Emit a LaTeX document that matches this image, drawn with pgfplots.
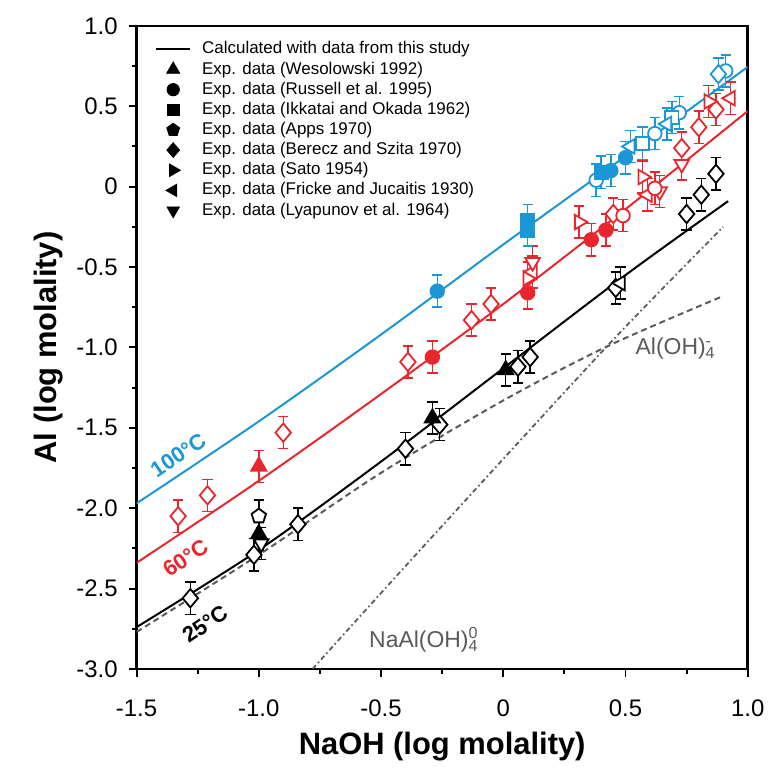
\documentclass[border=0pt]{standalone}
\usepackage{fontspec}
\setmainfont{Liberation Sans}
\usepackage{pgfplots}
\usepackage{pgfplotstable}
\pgfplotsset{compat=1.18}

\definecolor{cblue}{RGB}{27,150,214}
\definecolor{cred}{RGB}{233,38,45}
\definecolor{cgray}{RGB}{90,90,90}

% 25 C data
\pgfplotstableread{
x y
-1.28 -2.56
-1.02 -2.29
-0.84 -2.10
-0.40 -1.63
-0.26 -1.48
0.06 -1.12
0.11 -1.06
0.46 -0.63
0.75 -0.17
0.81 -0.05
0.87 0.08
}\blkdia
\pgfplotstableread{
x y
-0.99 -2.22
}\blkdt
\pgfplotstableread{
x y
0.48 -0.60
}\blklt
\pgfplotstableread{
x y
-1.0 -2.05
}\blkpent
\pgfplotstableread{
x y
-1.0 -2.16
-0.29 -1.44
0.01 -1.14
}\blktri

% 60 C data
\pgfplotstableread{
x y
-1.33 -2.05
-1.21 -1.92
-0.90 -1.53
-0.39 -1.09
-0.13 -0.83
-0.05 -0.73
0.45 -0.17
0.73 0.24
0.80 0.37
0.87 0.48
}\reddia
\pgfplotstableread{
x y
0.10 -0.57
0.31 -0.22
0.57 0.06
0.84 0.53
}\redrt
\pgfplotstableread{
x y
0.12 -0.53
0.59 -0.05
0.93 0.55
}\redlt
\pgfplotstableread{
x y
0.12 -0.47
0.64 -0.03
0.73 0.14
}\reddt
\pgfplotstableread{
x y
0.49 -0.18
0.62 -0.01
}\redocir
\pgfplotstableread{
x y
-1.0 -1.74
}\redtri
\pgfplotstableread{
x y
-0.29 -1.06
0.10 -0.66
0.36 -0.33
0.42 -0.27
}\redcir

% 100 C data
\pgfplotstableread{
x y
0.38 0.04
0.62 0.33
0.72 0.46
0.91 0.72
}\bluocir
\pgfplotstableread{
x y
0.57 0.27
0.69 0.43
}\bluosq
\pgfplotstableread{
x y
0.52 0.25
0.67 0.39
}\blult
\pgfplotstableread{
x y
0.88 0.70
}\bludia
\pgfplotstableread{
x y
-0.27 -0.65
0.44 0.10
0.50 0.18
}\blucir
\pgfplotstableread{
x y
0.10 -0.21
0.10 -0.27
0.40 0.09
}\blusq

\pgfplotsset{
  eb/.style={only marks, mark=none, forget plot,
    error bars/y dir=both, error bars/y fixed=0.1,
    error bars/error bar style={line width=0.75pt, solid},
    error bars/error mark options={rotate=90, line width=0.75pt, mark size=2.6pt}},
  mk/.style={only marks, forget plot, line width=0.9pt},
  mdia/.style={mark=diamond*, mark size=4.6pt, mark options={solid, fill=white, xscale=1.12}},
  mtri/.style={mark=triangle*, mark size=4.4pt, mark options={solid}},
  mcir/.style={mark=*, mark size=3.4pt, mark options={solid}},
  mocir/.style={mark=*, mark size=3.4pt, mark options={solid, fill=white}},
  msq/.style={mark=square*, mark size=3.3pt, mark options={solid}},
  mosq/.style={mark=square*, mark size=3.3pt, mark options={solid, fill=white}},
  mpent/.style={mark=pentagon*, mark size=3.8pt, mark options={solid, fill=white}},
  mrt/.style={mark=triangle*, mark size=4.2pt, mark options={solid, fill=white, rotate=-90}},
  mlt/.style={mark=triangle*, mark size=4.2pt, mark options={solid, fill=white, rotate=90}},
  mdt/.style={mark=triangle*, mark size=4.2pt, mark options={solid, fill=white, rotate=180}},
}
% error bars first, then the marks on top of them
\newcommand\pts[3]{%
  \addplot[#1, eb] table {#3};
  \addplot[#1, mk, #2] table {#3};
}

\begin{document}
\begin{tikzpicture}
\begin{axis}[
  width=306.5pt, height=322.5pt, scale only axis,
  xmin=-1.5, xmax=1.0, ymin=-3.0, ymax=1.0,
  xtick={-1.5,-1.0,-0.5,0,0.5,1.0},
  xticklabels={-1.5,-1.0,-0.5,0,0.5,1.0},
  ytick={-3.0,-2.5,-2.0,-1.5,-1.0,-0.5,0,0.5,1.0},
  yticklabels={-3.0,-2.5,-2.0,-1.5,-1.0,-0.5,0,0.5,1.0},
  minor tick num=1,
  xtick pos=left, ytick pos=left,
  tick align=outside,
  major tick length=4pt, minor tick length=2.5pt,
  tick style={line width=1pt, black},
  axis line style={line width=1.4pt},
  tick label style={font=\fontsize{12}{14}\selectfont},
  xticklabel style={yshift=-8pt},
  yticklabel style={xshift=-2pt},
  xlabel={NaOH (log molality)},
  ylabel={Al (log molality)},
  xlabel style={yshift=-1pt},
  label style={font=\bfseries\fontsize{15.5}{17}\selectfont},
  legend style={at={(0.02,0.985)}, anchor=north west, draw=none, fill=none,
    font=\fontsize{8.5}{9}\selectfont, row sep=0.6pt,
    nodes={inner sep=0.5pt, text height=6.5pt, text depth=2pt},
    /tikz/every odd column/.append style={column sep=5pt}},
  legend cell align=left,
]
% calculated curves
\addplot[cblue, line width=1pt, smooth, forget plot] coordinates {(-1.5,-1.97) (-1.0,-1.46) (-0.5,-0.92) (0,-0.36) (0.5,0.19) (1.0,0.745)};
\addplot[cred, line width=1pt, smooth, forget plot] coordinates {(-1.5,-2.34) (-1.0,-1.83) (-0.5,-1.29) (0,-0.73) (0.5,-0.14) (1.0,0.47)};
\addplot[black, line width=1pt, smooth, forget plot] coordinates {(-1.5,-2.74) (-1.0,-2.26) (-0.5,-1.71) (0,-1.13) (0.5,-0.55) (0.92,-0.09)};
\addplot[cgray, line width=1pt, smooth, dash pattern=on 3pt off 2pt, forget plot] coordinates {(-1.5,-2.77) (-1.0,-2.29) (-0.5,-1.78) (0,-1.33) (0.43,-0.99) (0.9,-0.68)};
\addplot[cgray, line width=0.9pt, smooth, dash pattern=on 2.5pt off 1.5pt on 0.8pt off 1.5pt, forget plot] coordinates {(-0.78,-3.0) (-0.37,-2.31) (0.42,-1.0) (0.9,-0.25)};

% 25 C
\pts{black}{mdia}{\blkdia}
\pts{black}{mdt}{\blkdt}
\pts{black}{mlt}{\blklt}
\pts{black}{mpent}{\blkpent}
\pts{black}{mtri}{\blktri}
% 60 C
\pts{cred}{mdia}{\reddia}
\pts{cred}{mrt}{\redrt}
\pts{cred}{mlt}{\redlt}
\pts{cred}{mdt}{\reddt}
\pts{cred}{mocir}{\redocir}
\pts{cred}{mtri}{\redtri}
\pts{cred}{mcir}{\redcir}
% 100 C
\pts{cblue}{mocir}{\bluocir}
\pts{cblue}{mosq}{\bluosq}
\pts{cblue}{mlt}{\blult}
\pts{cblue}{mdia}{\bludia}
\pts{cblue}{mcir}{\blucir}
\pts{cblue}{msq}{\blusq}

% legend
\addlegendimage{black, line width=1pt}
\addlegendentry{Calculated with data from this study}
\addlegendimage{only marks, black, mark=triangle*, mark size=3.8pt}
\addlegendentry{Exp. data (Wesolowski 1992)}
\addlegendimage{only marks, black, mark=*, mark size=3.1pt}
\addlegendentry{Exp. data (Russell et al. 1995)}
\addlegendimage{only marks, black, mark=square*, mark size=2.9pt}
\addlegendentry{Exp. data (Ikkatai and Okada 1962)}
\addlegendimage{only marks, black, mark=pentagon*, mark size=3.4pt}
\addlegendentry{Exp. data (Apps 1970)}
\addlegendimage{only marks, black, mark=diamond*, mark size=3.7pt, mark options={xscale=1.15}}
\addlegendentry{Exp. data (Berecz and Szita 1970)}
\addlegendimage{only marks, black, mark=triangle*, mark size=3.6pt, mark options={rotate=-90}}
\addlegendentry{Exp. data (Sato 1954)}
\addlegendimage{only marks, black, mark=triangle*, mark size=3.6pt, mark options={rotate=90}}
\addlegendentry{Exp. data (Fricke and Jucaitis 1930)}
\addlegendimage{only marks, black, mark=triangle*, mark size=3.6pt, mark options={rotate=180}}
\addlegendentry{Exp. data (Lyapunov et al. 1964)}

% labels
\node[cblue, font=\bfseries\fontsize{11}{11}\selectfont, rotate=34] at (axis cs:-1.33,-1.67) {100°C};
\node[cred, font=\bfseries\fontsize{11}{11}\selectfont, rotate=34] at (axis cs:-1.30,-2.31) {60°C};
\node[black, font=\bfseries\fontsize{11}{11}\selectfont, rotate=34] at (axis cs:-1.22,-2.72) {25°C};
\node[cgray, font=\fontsize{11.5}{12}\selectfont, anchor=west, inner sep=0pt] at (axis cs:0.54,-1.01) {Al(OH)\rlap{\textsuperscript{-}}\textsubscript{4}};
\node[cgray, font=\fontsize{11.5}{12}\selectfont, anchor=west, inner sep=0pt] at (axis cs:-0.55,-2.82) {NaAl(OH)\rlap{\textsuperscript{0}}\textsubscript{4}};
\end{axis}
\path (current axis.south west) ++(-68.5pt,-44.5pt) rectangle ++(385.5pt,380pt);
\end{tikzpicture}
\end{document}
